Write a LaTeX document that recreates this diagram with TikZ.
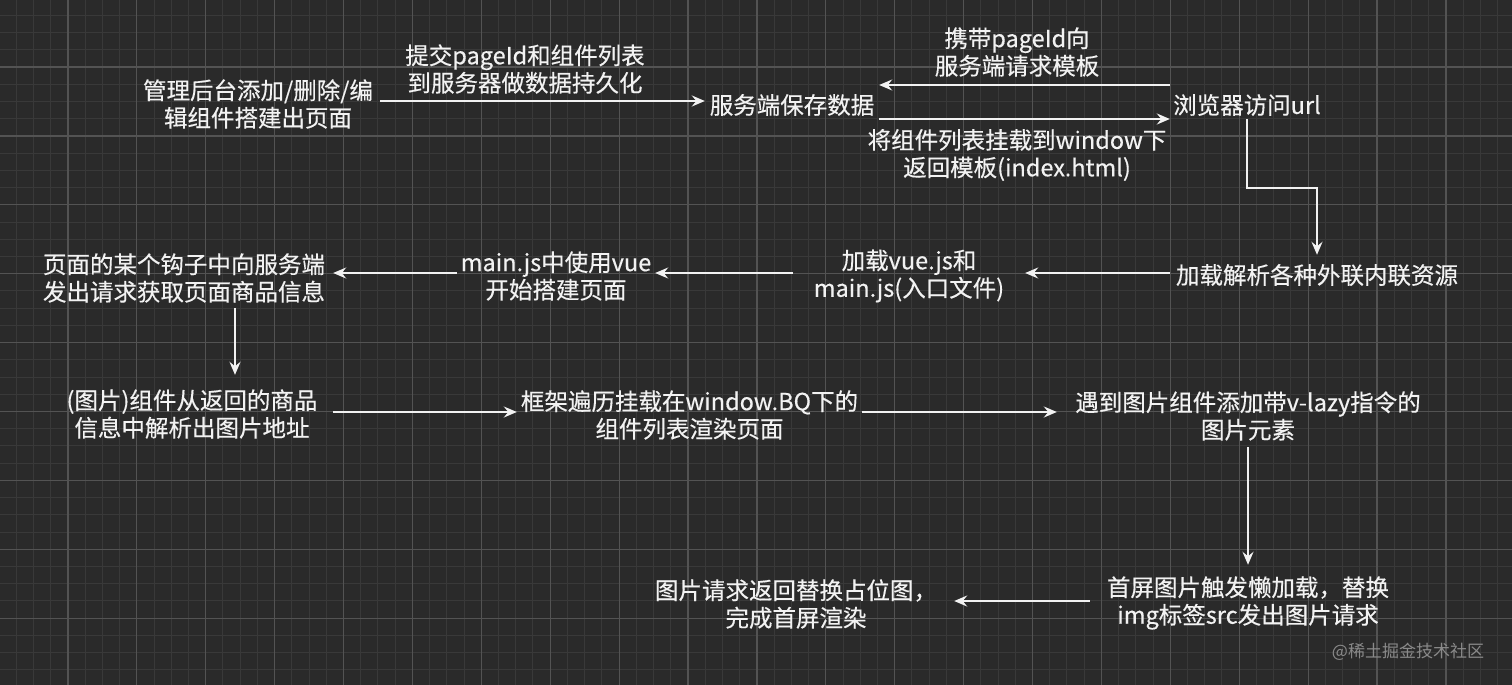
\documentclass[tikz,border=0pt]{standalone}
\usepackage{fontspec}
\newfontfamily\cjk[FakeBold=0.35]{Noto Sans CJK SC}
\newfontfamily\cjkwm{Noto Sans CJK SC}
\usetikzlibrary{arrows.meta}
\definecolor{bg}{HTML}{2A2A2A}
\definecolor{gminor}{HTML}{393939}
\definecolor{gmajor}{HTML}{535353}
\definecolor{fg}{HTML}{F2F2F2}
\definecolor{wmark}{HTML}{8A8A8A}
\tikzset{
  lbl/.style={text=fg, font=\cjk\fontsize{23.5}{27.5}\selectfont, align=center, inner sep=0pt},
  arr/.style={draw=fg, line width=2pt, -{Stealth[length=13pt,width=11pt,inset=4.5pt]}},
  minorline/.style={draw=gminor, line width=1pt},
  majorline/.style={draw=gmajor, line width=1.2pt},
}
\begin{document}
\begin{tikzpicture}[x=1pt,y=-1pt]
\useasboundingbox (0,0) rectangle (1512,685);
\fill[bg] (0,0) rectangle (1512,685);
% grid
\foreach \i in {0,...,88} {
  \draw[minorline] ({-1+17.225*\i},0) -- ({-1+17.225*\i},685);
}
\foreach \j in {0,...,40} {
  \draw[minorline] (0,{-1.9+17.225*\j}) -- (1512,{-1.9+17.225*\j});
}
\foreach \i in {0,...,22} {
  \draw[majorline] ({-1+68.9*\i},0) -- ({-1+68.9*\i},685);
}
\foreach \j in {0,...,10} {
  \draw[majorline] (0,{-1.9+68.9*\j}) -- (1512,{-1.9+68.9*\j});
}
% nodes
\node[lbl, minimum width=244pt, minimum height=60pt] (n1) at (258,104) {管理后台添加/删除/编\\辑组件搭建出页面};
\node[lbl] (l1) at (525,69) {提交pageId和组件列表\\到服务器做数据持久化};
\node[lbl, minimum width=174pt, minimum height=28pt] (n2) at (792,105) {服务端保存数据};
\node[lbl] (l2) at (1017,52) {携带pageId向\\服务端请求模板};
\node[lbl] (l3) at (1017,155) {将组件列表挂载到window下\\返回模板(index.html)};
\node[lbl, minimum width=154pt, minimum height=28pt] (n3) at (1247,105) {浏览器访问url};
\node[lbl, minimum width=294pt, minimum height=40pt] (n4) at (1317,275) {加载解析各种外联内联资源};
\node[lbl, minimum width=232pt, minimum height=60pt] (n5) at (909,276) {加载vue.js和\\main.js(入口文件)};
\node[lbl, minimum width=198pt, minimum height=60pt] (n6) at (556,276) {main.js中使用vue\\开始搭建页面};
\node[lbl, minimum width=298pt, minimum height=60pt] (n7) at (184,278) {页面的某个钩子中向服务端\\发出请求获取页面商品信息};
\node[lbl, minimum width=282pt, minimum height=78pt] (n8) at (192,414) {(图片)组件从返回的商品\\信息中解析出图片地址};
\node[lbl, minimum width=345pt, minimum height=60pt] (n9) at (689.5,415) {框架遍历挂载在window.BQ下的\\组件列表渲染页面};
\node[lbl, minimum width=382pt, minimum height=62pt] (n10) at (1248,416) {遇到图片组件添加带v-lazy指令的\\图片元素};
\node[lbl, minimum width=316pt, minimum height=76pt] (n11) at (1248,603) {首屏图片触发懒加载，替换\\img标签src发出图片请求};
\node[lbl, minimum width=316pt, minimum height=60pt] (n12) at (796,604) {图片请求返回替换占位图，\\完成首屏渲染};
\node[text=wmark, font=\cjkwm\fontsize{17}{20}\selectfont, inner sep=0pt] (wm) at (1408,652) {@稀土掘金技术社区};
% connectors
\draw[arr] ([yshift=3pt]n1.east) -- ([yshift=3pt]n1.east -| n2.west);
\draw[arr] ([yshift=20pt]n3.west) -- ([yshift=20pt]n3.west -| n2.east);
\draw[arr] ([yshift=-14pt]n2.east) -- ([yshift=-14pt]n2.east -| n3.west);
\draw[arr] (n3.south) -- ++(0,69) -| (n4.north);
\draw[arr] ([yshift=2pt]n4.west) -- ([yshift=2pt]n4.west -| n5.east);
\draw[arr] ([yshift=3pt]n5.west) -- ([yshift=3pt]n5.west -| n6.east);
\draw[arr] ([yshift=3pt]n6.west) -- ([yshift=3pt]n6.west -| n7.east);
\draw[arr] ([xshift=51pt]n7.south) -- ([xshift=51pt]n7.south |- n8.north);
\draw[arr] ([yshift=2pt]n8.east) -- ([yshift=2pt]n8.east -| n9.west);
\draw[arr] ([yshift=3pt]n9.east) -- ([yshift=3pt]n9.east -| n10.west);
\draw[arr] (n10.south) -- (n10.south |- n11.north);
\draw[arr] ([yshift=2pt]n11.west) -- ([yshift=2pt]n11.west -| n12.east);
\end{tikzpicture}
\end{document}
